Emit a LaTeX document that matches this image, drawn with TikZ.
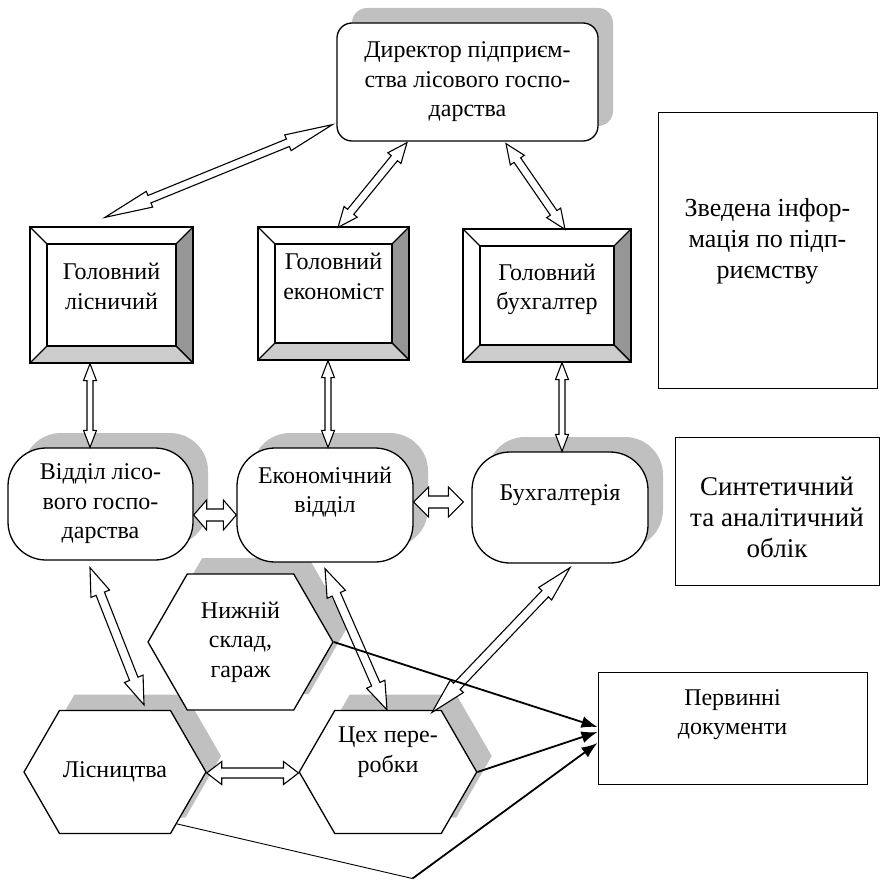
\documentclass[tikz,border=0pt]{standalone}
\usepackage{fontspec}
\setmainfont{Liberation Serif}
\usetikzlibrary{calc,shapes.symbols,shadows,arrows.meta}

\definecolor{shadowgray}{HTML}{C0C0C0}
\definecolor{bevdark}{HTML}{969696}
\definecolor{bevlight}{HTML}{CCCCCC}

% hollow two-headed block arrow: ends, shaft half width, head half width, head length
\newcommand\twoway[5]{%
  \draw[blockarrow] (#1)
    -- ($(#1)!#5!(#2)!#4!90:(#2)$) -- ($(#1)!#5!(#2)!#3!90:(#2)$)
    -- ($(#2)!#5!(#1)!#3!-90:(#1)$) -- ($(#2)!#5!(#1)!#4!-90:(#1)$)
    -- (#2)
    -- ($(#2)!#5!(#1)!#4!90:(#1)$) -- ($(#2)!#5!(#1)!#3!90:(#1)$)
    -- ($(#1)!#5!(#2)!#3!-90:(#2)$) -- ($(#1)!#5!(#2)!#4!-90:(#2)$) -- cycle;}

\begin{document}
\begin{tikzpicture}[x=1pt,y=-1pt,
  font=\fontsize{24}{29.5}\selectfont, line width=1.3pt,
  roundbox/.style={draw, fill=white, align=center,
    general shadow={fill=shadowgray, shadow xshift=15pt, shadow yshift=15pt}},
  plainbox/.style={draw, fill=white, align=center, line width=1pt},
  hexbox/.style={shape=signal, signal to=west and east, signal pointer angle=120,
    draw, fill=white, align=center,
    general shadow={fill=shadowgray, shadow xshift=15pt, shadow yshift=16pt}},
  bevelbox/.style={draw, fill=white, align=center,
    path picture={
      \filldraw[fill=bevdark] (path picture bounding box.north east)
        -- (path picture bounding box.south east)
        -- ($(path picture bounding box.south east)+(-17,-17)$)
        -- ($(path picture bounding box.north east)+(-17,17)$) -- cycle;
      \filldraw[fill=bevlight] (path picture bounding box.south west)
        -- (path picture bounding box.south east)
        -- ($(path picture bounding box.south east)+(-17,-17)$)
        -- ($(path picture bounding box.south west)+(17,-17)$) -- cycle;
      \draw (path picture bounding box.north west)
        -- ($(path picture bounding box.north west)+(17,17)$);
      \draw ($(path picture bounding box.north west)+(17,17)$)
        rectangle ($(path picture bounding box.south east)+(-17,-17)$);
    }},
  blockarrow/.style={draw, fill=white, line width=1.1pt, line join=miter},
  docarrow/.style={-{Latex[length=16pt,width=12pt]}, line width=1.8pt},
  thinline/.style={line width=0.9pt}
]
\useasboundingbox (0,0) rectangle (882,880);

% bottom level
\node[hexbox, minimum width=174pt, minimum height=123pt] (lis) at (115,772) {Лісництва};
\node[hexbox, minimum width=172pt, minimum height=123pt] (cekh) at (388,772) {Цех пере-\\робки\\[15pt]\mbox{}};
\node[hexbox, minimum width=185pt, minimum height=136pt] (nz) at (240.5,642) {Нижній\\склад,\\гараж};

% departments
\node[roundbox, rounded corners=38pt, minimum width=185pt, minimum height=112pt] (vl) at (100.5,504) {Відділ лісо-\\вого госпо-\\дарства};
\node[roundbox, rounded corners=38pt, minimum width=176pt, minimum height=114pt] (ev) at (325,505) {Економічний\\відділ\\[1pt]\mbox{}};
\node[roundbox, rounded corners=38pt, minimum width=176pt, minimum height=111pt] (bh) at (560,507.5) {Бухгалтерія\\\mbox{}};

% heads
\node[bevelbox, minimum width=163pt, minimum height=136pt] (gl) at (111.5,295) {Головний\\лісничий\\[-12pt]\mbox{}};
\node[bevelbox, minimum width=151pt, minimum height=133pt] (ge) at (333.5,293.5) {Головний\\економіст\\[5pt]\mbox{}};
\node[bevelbox, minimum width=168pt, minimum height=133pt] (gb) at (547,295.5) {Головний\\бухгалтер\\[-12pt]\mbox{}};

\node[roundbox, rounded corners=15pt, minimum width=261pt, minimum height=118pt] (dir) at (467.5,82) {Директор підприєм-\\ства лісового госпо-\\дарства};

% captions on the right
\node[plainbox, minimum width=219pt, minimum height=276pt, font=\fontsize{26}{31}\selectfont] (info) at (767.5,250) {Зведена інфор-\\мація по підп-\\риємству\\[-7pt]\mbox{}};
\node[plainbox, minimum width=204pt, minimum height=148pt, font=\fontsize{27}{31}\selectfont] (synth) at (777,511) {\mbox{}\\[1pt]Синтетичний\\та аналітичний\\облік};
\node[plainbox, minimum width=269pt, minimum height=112pt] (perv) at (732.5,728) {Первинні\\документи\\[2pt]\mbox{}};

% arrow ends
\coordinate (a1) at ($(dir.south west)+(-4,-17)$);
\coordinate (b1) at ($(gl.north)+(-6.5,-9)$);
\coordinate (a2) at ($(dir.south)+(-60.5,1)$);
\coordinate (b2) at ($(ge.north)+(4.5,1)$);
\coordinate (a3) at ($(dir.south)+(38.5,2)$);
\coordinate (b3) at ($(gb.north)+(18,1)$);
\coordinate (a4) at ($(gl.south)+(-21.5,0)$);
\coordinate (b4) at ($(vl.north)+(-10.5,0)$);
\coordinate (a5) at ($(ge.south)+(-5.5,0)$);
\coordinate (b5) at ($(ev.north)+(3,0)$);
\coordinate (a6) at ($(gb.south)+(15,0)$);
\coordinate (b6) at ($(bh.north)+(2,0)$);
\coordinate (a7) at ($(vl.east)+(0,11)$);
\coordinate (b7) at ($(ev.west)+(0,10)$);
\coordinate (a8) at ($(ev.east)+(0,-3)$);
\coordinate (b8) at ($(bh.west)+(-8,-5.5)$);
\coordinate (a9) at ($(lis.east)+(0,1)$);
\coordinate (b9) at ($(cekh.west)+(0,1)$);
\coordinate (a10) at ($(vl.south)+(-10.5,7)$);
\coordinate (b10) at ($(lis.north)+(29,-5)$);
\coordinate (a11) at ($(ev.south)+(0,6)$);
\coordinate (b11) at ($(cekh.north)+(-1,0)$);
\coordinate (a12) at ($(bh.south)+(10,4)$);
\coordinate (b12) at ($(cekh.north)+(44,2.5)$);
\coordinate (bend) at ($(perv.south west)+(-185,94)$);

\twoway{a1}{b1}{4pt}{8.5pt}{48pt}
\twoway{a2}{b2}{4pt}{8.5pt}{20pt}
\twoway{a3}{b3}{4pt}{8.5pt}{20pt}
\twoway{a4}{b4}{3pt}{6.5pt}{17pt}
\twoway{a5}{b5}{3pt}{6.5pt}{17pt}
\twoway{a6}{b6}{3pt}{6.5pt}{17pt}
\twoway{a7}{b7}{6pt}{15pt}{13pt}
\twoway{a8}{b8}{6pt}{15pt}{15pt}
\twoway{a9}{b9}{5pt}{11.5pt}{15pt}
\twoway{a10}{b10}{4.5pt}{10pt}{28pt}
\twoway{a11}{b11}{4.5pt}{10pt}{28pt}
\twoway{a12}{b12}{4.5pt}{9pt}{36pt}

% documents flow
\draw[docarrow] (nz.east) -- ($(perv.west)+(0,-1)$);
\draw[docarrow] (cekh.east) -- ($(perv.west)+(0,4)$);
\draw[thinline] (lis.-40) -- (bend);
\draw[docarrow] (bend) -- ($(perv.west)+(0,15)$);
\end{tikzpicture}
\end{document}
